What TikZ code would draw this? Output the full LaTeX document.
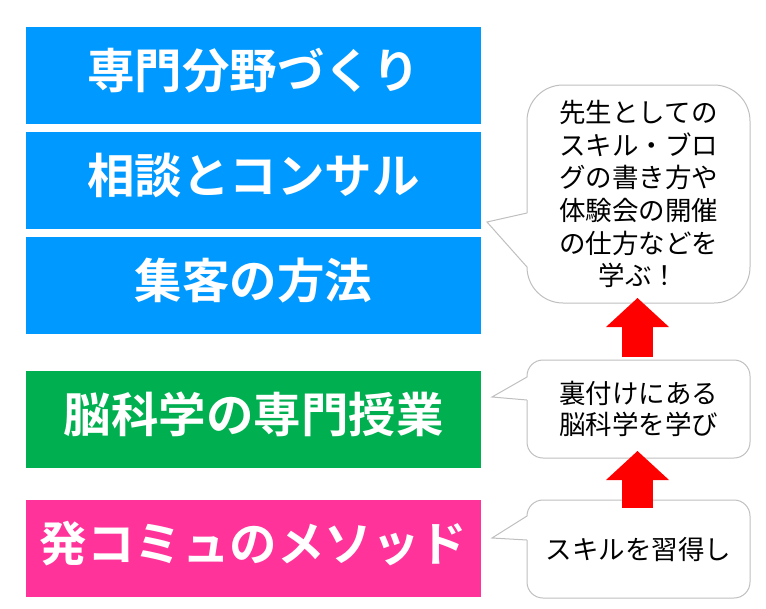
\documentclass[tikz,border=0pt]{standalone}
\usepackage{fontspec}
\usepackage{xcolor}
\usepackage{tikz}
\usetikzlibrary{calc}
\usetikzlibrary{arrows.meta}
\newfontfamily\jpfont{Noto Sans CJK JP}[BoldFont={Noto Sans CJK JP Bold}]
\definecolor{skyBlue}{RGB}{0,153,255}
\definecolor{brainGreen}{RGB}{0,176,80}
\definecolor{commPink}{RGB}{255,51,153}
\definecolor{upRed}{RGB}{255,0,0}
\definecolor{noteGray}{RGB}{191,191,191}

\begin{document}
\begin{tikzpicture}[x=1pt, y=-1pt,
		every node/.style={inner sep=0pt, outer sep=0pt},
		band/.style={minimum width=455pt, minimum height=97pt, text=white, text height=36pt, text depth=10pt,
			font=\jpfont\bfseries\fontsize{47.5}{50}\selectfont},
		note/.style={minimum width=223pt, align=center, font=\jpfont\fontsize{26.5}{32.7}\selectfont},
		noteLine/.style={draw=noteGray, line width=1pt},
		upArrow/.style={upRed, line width=31pt, -{Triangle[width=63pt,length=29pt,line width=0pt]}}]
		\useasboundingbox (0,0) rectangle (766,608);
		% left column
		\node [band, fill=skyBlue] (field) at (253.5,75.5) {専門分野づくり};
		\node [band, fill=skyBlue] (consult) at (253.5,180.5) {相談とコンサル};
		\node [band, fill=skyBlue] (attract) at (253.5,285) {集客の方法};
		\node [band, fill=brainGreen] (brain) at (253.5,419.5) {脳科学の専門授業};
		\node [band, fill=commPink] (method) at (253.5,548.5) {発コミュのメソッド};
		% speech bubbles
		\node [note, minimum height=218pt] (noteTop) at (638.5,194) {先生としての\\スキル・ブロ\\グの書き方や\\体験会の開催\\の仕方などを\\学ぶ！};
		\node [note, minimum height=98pt, font=\jpfont\fontsize{26.5}{30.5}\selectfont] (noteMid) at (638.5,409) {裏付けにある\\脳科学を学び};
		\node [note, minimum height=98pt] (noteLow) at (638.5,549) {スキルを習得し};
		\coordinate (tipTop) at (487,222);
		\coordinate (tipMid) at (492,397);
		\coordinate (tipLow) at (492,538);
		\draw [noteLine, rounded corners=36pt] (noteTop.west |- 0,267) -- (noteTop.south west) -- (noteTop.south east)
			-- (noteTop.north east) -- (noteTop.north west) -- (noteTop.west |- 0,213);
		\draw [noteLine] (noteTop.west |- 0,213) -- (tipTop) -- (noteTop.west |- 0,267);
		\draw [noteLine, rounded corners=16pt] (noteMid.west |- 0,400) -- (noteMid.south west) -- (noteMid.south east)
			-- (noteMid.north east) -- (noteMid.north west) -- (noteMid.west |- 0,377);
		\draw [noteLine] (noteMid.west |- 0,377) -- (tipMid) -- (noteMid.west |- 0,400);
		\draw [noteLine, rounded corners=16pt] (noteLow.west |- 0,540) -- (noteLow.south west) -- (noteLow.south east)
			-- (noteLow.north east) -- (noteLow.north west) -- (noteLow.west |- 0,516);
		\draw [noteLine] (noteLow.west |- 0,516) -- (tipLow) -- (noteLow.west |- 0,540);
		% red arrows
		\draw [upArrow] ($(noteMid.north)+(-1,-3)$) -- ($(noteTop.south)+(-1,-5)$);
		\draw [upArrow] ($(noteLow.north)+(-1,8)$) -- ($(noteMid.south)+(-1,-7)$);
\end{tikzpicture}
\end{document}
